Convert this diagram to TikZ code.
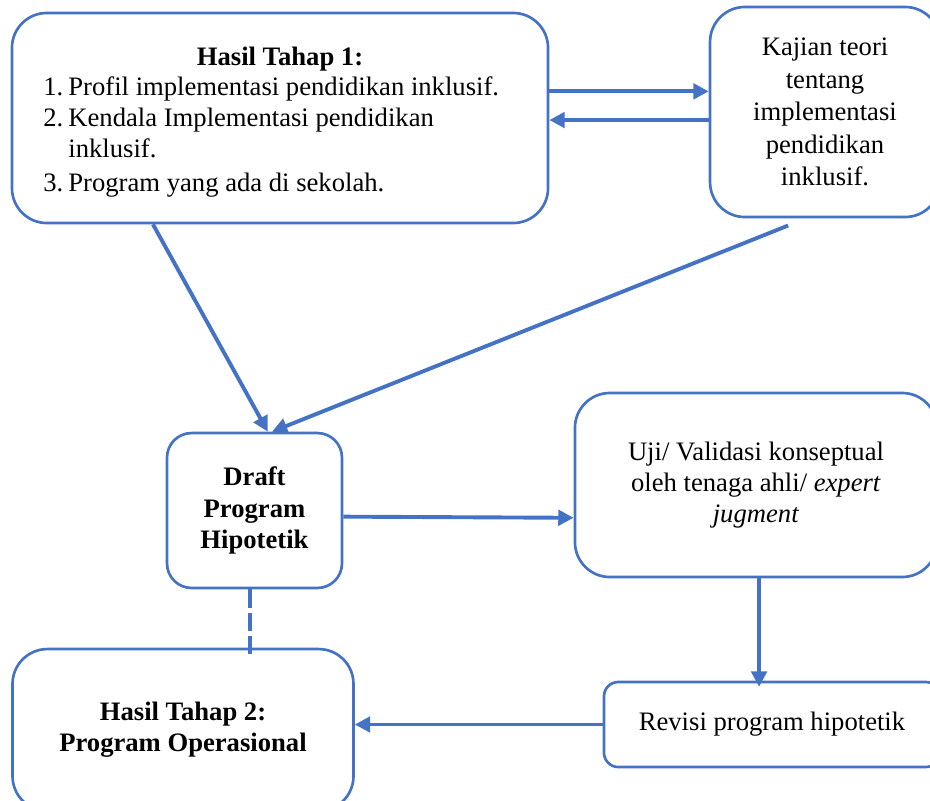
\documentclass[tikz,border=0pt]{standalone}
\usepackage{fontspec}
\setmainfont{Liberation Serif}
\usetikzlibrary{arrows.meta}
\definecolor{wordblue}{HTML}{4472C4}

\begin{document}
\begin{tikzpicture}[x=0.488pt,y=-0.488pt,line width=1.5pt, every node/.style={font=\fontsize{13pt}{15.2pt}\selectfont}] % pixel grid

\tikzstyle{block} = [draw=wordblue,line width=1.3pt,rounded corners=17pt,align=center,inner sep=0];
\tikzstyle{flow} = [-{Triangle[length=7.5pt,width=7.5pt]},draw=wordblue,line width=1.9pt];

\useasboundingbox (0,0) rectangle (930,800);
\clip (0,0) rectangle (930,800);

\node[block,minimum width=261.6pt,minimum height=102.5pt,text width=231pt,align=none] (h1) at (280,118) {{\centering\rule{0pt}{15pt}\textbf{Hasil Tahap 1:}\par}\noindent\begin{tabular}{@{}l@{\hspace{2.5pt}}l@{}}
1.&Profil implementasi pendidikan inklusif.\\
2.&Kendala Implementasi pendidikan\\
&inklusif.\\[1.5pt]
3.&Program yang ada di sekolah.
\end{tabular}};
\node[block,minimum width=112.2pt,minimum height=102.5pt,font=\fontsize{13pt}{15.8pt}\selectfont] (kaj) at (825,112) {Kajian teori\\tentang\\implementasi\\pendidikan\\inklusif.};
\node[block,rounded corners=12pt,minimum width=85.4pt,minimum height=75.6pt,font=\fontsize{13pt}{15.2pt}\selectfont\bfseries] (draft) at (254.5,510.5) {Draft\\Program\\Hipotetik};
\node[block,minimum width=176.7pt,minimum height=89.8pt] (uji) at (756,485) {Uji/ Validasi konseptual\\oleh tenaga ahli/ \textit{expert}\\\textit{jugment}};
\node[block,rounded corners=7pt,minimum width=164pt,minimum height=41.5pt] (rev) at (772,724.5) {Revisi program hipotetik};
\node[block,minimum width=166.4pt,minimum height=79pt,font=\fontsize{13pt}{15.2pt}\selectfont\bfseries] (h2) at (183,730) {Hasil Tahap 2:\\Program Operasional};

% stage 1 <-> theory
\draw[flow] ([yshift=13pt]h1.east) -- ([yshift=13pt]h1.east -| kaj.west);
\draw[flow] ([yshift=-1pt]h1.east -| kaj.west) -- ([yshift=-1pt]h1.east);

% into the draft
\draw[flow] ([xshift=-62pt]h1.south) -- ([xshift=6.5pt]draft.north);
\draw[flow] ([xshift=-18pt,yshift=-3.5pt]kaj.south) -- ([xshift=8.5pt]draft.north);

% validation loop
\draw[flow] ([yshift=-3pt]draft.east) -- ([yshift=-16pt]uji.west);
\draw[flow] ([xshift=1.5pt]uji.south) -- ([xshift=1.5pt,yshift=-3pt]uji.south |- rev.north);
\draw[flow] (rev.west) -- (rev.west -| h2.east);
\draw[wordblue,line width=1.9pt,dash pattern=on 9pt off 2.5pt] ([xshift=-2pt]draft.south) -- ([xshift=-2pt,yshift=-3pt]draft.south |- h2.north);
\end{tikzpicture}
\end{document}
